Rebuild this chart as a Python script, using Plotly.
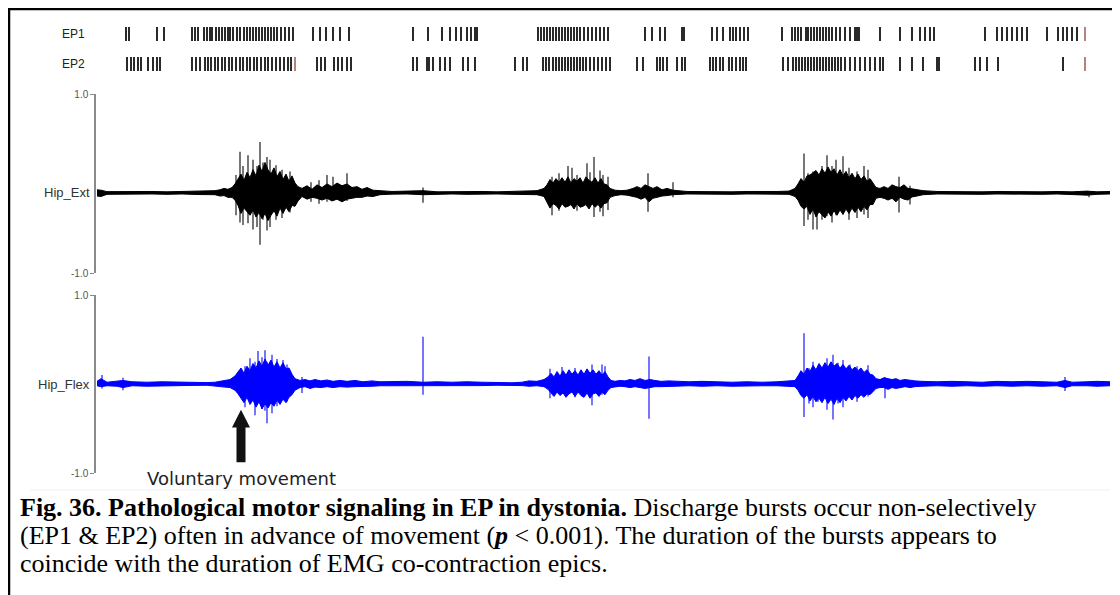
import plotly.graph_objects as go

# page is offset by the 8px body margin; figure sized to fit the window exactly
OFF = 8
W, H = 1120 - OFF, 595 - OFF

# ---------------- spike raster (time in a.u.) ----------------
EP1_SPIKES = [29, 32, 60, 67, 95, 98, 101, 107, 110, 113, 115, 119, 122, 125, 128, 131, 133, 136, 140, 143,
              147, 150, 153, 156, 159, 162, 165, 168, 171, 174, 177, 180, 184, 188, 192, 196, 216, 223, 229,
              236, 243, 252, 316, 331, 345, 353, 359, 364, 370, 374, 378, 380, 441, 444, 447, 450, 453, 456,
              459, 462, 465, 468, 471, 474, 477, 480, 483, 487, 491, 495, 499, 503, 507, 511, 548, 555, 563,
              568, 585, 587, 615, 620, 626, 633, 636, 639, 643, 647, 651, 685, 695, 698, 701, 704, 709, 711,
              714, 717, 720, 723, 726, 729, 732, 735, 739, 743, 748, 753, 758, 760, 762, 783, 803, 815, 823,
              828, 833, 837, 888, 900, 905, 910, 915, 920, 925, 930, 950, 961, 966, 970, 975, 980]
EP1_MARKED = [988]
EP2_SPIKES = [30, 34, 37, 41, 44, 51, 56, 60, 63, 95, 99, 103, 108, 111, 114, 118, 121, 125, 128, 132, 135,
              139, 143, 146, 150, 153, 157, 160, 164, 168, 171, 175, 179, 183, 187, 191, 194, 220, 224, 228,
              237, 241, 245, 250, 254, 316, 320, 330, 332, 336, 343, 348, 353, 366, 371, 378, 418, 426, 430,
              446, 449, 452, 456, 459, 462, 465, 468, 471, 474, 477, 480, 483, 486, 489, 493, 497, 501, 505,
              509, 513, 540, 546, 560, 563, 566, 570, 580, 585, 588, 613, 616, 619, 623, 626, 632, 635, 639,
              643, 646, 649, 686, 691, 696, 699, 702, 705, 708, 711, 714, 717, 720, 723, 726, 729, 732, 735,
              738, 741, 744, 748, 753, 758, 763, 768, 773, 778, 783, 786, 803, 815, 826, 840, 842, 878, 883,
              890, 901, 966]
EP2_MARKED = [198, 988]
UNITS = ["EP1", "EP2"]

# ---------------- EMG envelopes (time, upper, lower deviation from baseline) ----------------
EXT_BASE = -0.105
EXT_T = [0, 4, 10, 25, 40, 55, 70, 85, 100, 110, 118, 123, 127, 131, 135, 138,
         141, 144, 147, 150, 153, 156, 159, 162, 165, 168, 171, 174, 177, 180, 183, 186, 189, 192, 195, 198, 201,
         205, 210, 215, 220, 225, 230, 235, 240, 245, 250, 255, 260, 265, 270, 276, 283,
         295, 310, 326, 340, 355, 370, 385, 400, 415, 428, 440, 447,
         450, 453, 456, 459, 462, 465, 468, 471, 474, 477, 480, 483, 486, 489, 492, 495, 498, 501, 504, 507, 510, 513,
         518, 524, 530, 536, 540, 544, 548, 552, 556, 560, 565, 570, 576,
         590, 605, 620, 635, 650, 665, 680, 692, 698,
         701, 704, 707, 710, 713, 716, 719, 722, 725, 728, 731, 734, 737, 740, 743, 746, 749, 752, 755, 758, 761,
         764, 767, 770, 773, 776, 779,
         783, 787, 791, 795, 799, 803, 807, 811, 815, 820, 826,
         840, 855, 870, 885, 900, 915, 930, 945, 960, 975, 990, 1000, 1013]
EXT_UP = [.035, .03, .014, .016, .012, .016, .012, .016, .012, .02, .025, .035, .05, .04, .06, .1,
          .16, .21, .14, .23, .17, .26, .19, .31, .24, .34, .26, .21, .28, .18, .24, .15, .21, .13, .19, .11, .07,
          .05, .08, .04, .09, .06, .1, .07, .11, .08, .1, .06, .07, .04, .06, .03, .025,
          .016, .02, .025, .012, .016, .012, .016, .012, .016, .02, .025, .05,
          .09, .15, .11, .16, .12, .17, .12, .18, .11, .16, .13, .17, .11, .18, .14, .12, .17, .11, .16, .1, .09, .05,
          .03, .025, .03, .05, .07, .05, .09, .07, .05, .07, .035, .05, .03,
          .016, .012, .016, .012, .016, .012, .016, .02, .05,
          .1, .16, .12, .19, .2, .23, .25, .2, .27, .22, .29, .23, .27, .2, .26, .19, .24, .17, .22, .16, .21,
          .15, .19, .13, .16, .11, .06,
          .05, .07, .05, .09, .07, .06, .09, .05, .045, .035, .025,
          .016, .012, .016, .012, .016, .012, .016, .012, .016, .012, .02, .012, .016]
EXT_DN = [.035, .04, .016, .012, .016, .012, .016, .012, .018, .016, .02, .035, .03, .05, .05, .08,
          .14, .23, .17, .21, .25, .19, .27, .22, .29, .23, .31, .25, .2, .26, .17, .23, .16, .21, .14, .15, .09,
          .04, .07, .05, .06, .08, .06, .09, .07, .1, .07, .06, .05, .05, .035, .04, .02,
          .014, .012, .02, .016, .012, .016, .012, .012, .016, .016, .02, .04,
          .1, .17, .12, .14, .18, .12, .16, .15, .13, .18, .12, .16, .15, .13, .18, .12, .16, .13, .17, .12, .11, .05,
          .03, .02, .025, .04, .05, .07, .05, .1, .06, .05, .035, .03, .02,
          .012, .016, .012, .016, .012, .016, .012, .016, .04,
          .08, .15, .18, .15, .24, .18, .27, .21, .25, .28, .21, .26, .2, .25, .19, .24, .18, .23, .17, .22, .16,
          .21, .15, .19, .13, .13, .06,
          .05, .06, .08, .06, .1, .05, .07, .08, .045, .035, .02,
          .012, .016, .012, .016, .012, .016, .012, .016, .012, .016, .025, .016, .012]
EXT_SPK_T = [139, 143, 146, 151, 156, 160, 163, 166, 170, 173, 179, 185, 193, 214, 222, 230, 236, 250, 326,
             455, 462, 471, 475, 480, 490, 493, 497, 503, 506, 511,
             551, 576, 707, 711, 716, 720, 725, 730, 735, 739, 746, 752, 760, 767, 771, 802, 813, 992]
EXT_SPK_HI = [.2, .46, .3, .42, .37, .3, .57, .34, .4, .37, .31, .26, .24, .12, .14, .2, .18, .22, .06,
              .18, .22, .3, .28, .2, .33, .23, .4, .25, .2, .18,
              .22, .12, .44, .22, .24, .22, .3, .42, .3, .37, .41, .28, .24, .3, .26, .18, .08, .01]
EXT_SPK_LO = [.25, .33, .36, .34, .41, .38, .58, .3, .42, .38, .3, .28, .22, .1, .12, .1, .08, .09, .11,
              .25, .2, .15, .14, .2, .15, .16, .27, .21, .26, .19,
              .21, .05, .37, .3, .41, .41, .3, .26, .33, .25, .24, .3, .28, .24, .28, .22, .13, .05]

FLEX_BASE = 0.0
FLEX_T = [0, 4, 10, 20, 26, 35, 50, 65, 80, 95, 110, 118, 123, 128, 133, 138,
          141, 144, 147, 150, 153, 156, 159, 162, 165, 168, 171, 174, 177, 180, 183, 186, 189, 192, 195, 198,
          203, 208, 213, 218, 224, 230, 236, 243, 250, 258, 266, 275, 283,
          295, 310, 326, 340, 355, 370, 385, 400, 415, 425, 432, 440, 447,
          451, 454, 457, 460, 463, 466, 469, 472, 475, 478, 481, 484, 487, 490, 493, 496, 499, 502, 505, 508, 511, 514,
          518, 523, 528, 533, 538, 543, 548, 553, 558, 564, 572, 580,
          592, 605, 620, 635, 650, 665, 680, 693, 698,
          701, 704, 707, 710, 713, 716, 719, 722, 725, 728, 731, 734, 737, 740, 743, 746, 749, 752, 755, 758, 761,
          764, 767, 770, 773, 776, 779,
          783, 787, 791, 795, 799, 803, 808, 813, 818, 825,
          840, 855, 870, 885, 900, 915, 930, 945, 960, 968, 975, 990, 1000, 1013]
FLEX_UP = [.03, .06, .02, .03, .04, .025, .02, .025, .02, .018, .016, .02, .03, .045, .05, .09,
           .13, .18, .12, .2, .15, .23, .18, .26, .2, .28, .21, .27, .19, .25, .18, .24, .17, .18, .11, .06,
           .04, .05, .035, .05, .035, .045, .03, .04, .03, .04, .025, .035, .025,
           .025, .03, .02, .025, .02, .025, .02, .016, .014, .02, .035, .03, .05,
           .08, .12, .08, .14, .09, .15, .1, .16, .11, .15, .1, .16, .11, .17, .12, .16, .11, .15, .1, .14, .08, .04,
           .03, .04, .035, .05, .04, .06, .04, .05, .04, .03, .035, .03,
           .025, .03, .025, .02, .025, .02, .025, .03, .04,
           .09, .15, .11, .18, .14, .21, .16, .23, .18, .24, .19, .25, .2, .23, .18, .22, .17, .21, .16, .19, .15,
           .18, .13, .16, .11, .1, .06,
           .05, .07, .06, .05, .06, .04, .05, .04, .035, .03,
           .025, .03, .025, .02, .03, .025, .03, .025, .02, .04, .02, .025, .03, .025]
FLEX_DN = [.02, .03, .02, .025, .04, .02, .025, .02, .018, .016, .014, .02, .025, .035, .04, .07,
           .11, .16, .21, .15, .23, .18, .26, .2, .28, .22, .27, .21, .25, .18, .23, .17, .21, .15, .12, .07,
           .04, .03, .05, .035, .04, .03, .04, .03, .035, .03, .03, .025, .02,
           .02, .025, .02, .02, .025, .02, .018, .014, .014, .018, .025, .02, .03,
           .06, .1, .14, .09, .13, .1, .15, .11, .09, .14, .09, .13, .15, .1, .16, .11, .1, .14, .09, .12, .07, .04,
           .03, .025, .03, .04, .03, .04, .05, .04, .03, .03, .025, .02,
           .02, .025, .02, .025, .02, .02, .02, .025, .03,
           .07, .13, .16, .12, .19, .14, .2, .16, .21, .15, .22, .17, .23, .16, .21, .15, .19, .14, .18, .13, .16,
           .12, .15, .11, .12, .08, .05,
           .04, .04, .06, .04, .05, .04, .03, .04, .03, .025,
           .02, .025, .02, .025, .02, .025, .02, .025, .02, .04, .02, .02, .025, .02]
FLEX_SPK_T = [5, 26, 148, 153, 158, 161, 165, 168, 170, 175, 180, 186, 190, 205, 326, 453, 465, 478, 495,
              505, 508, 552, 707, 712, 716, 721, 730, 736, 741, 746, 753, 760, 771, 788, 968]
FLEX_SPK_HI = [.1, .07, .2, .29, .25, .37, .3, .38, .25, .33, .28, .27, .22, .08, .53, .17, .19, .18, .22,
               .22, .2, .31, .57, .18, .25, .2, .29, .33, .24, .27, .22, .2, .21, .08, .08]
FLEX_SPK_LO = [.05, .07, .26, .18, .35, .2, .28, .3, .44, .33, .25, .15, .2, .1, .12, .16, .1, .15, .24,
               .12, .1, .39, .37, .22, .26, .2, .29, .4, .22, .26, .15, .2, .14, .16, .08]
CHANNELS = ["Hip_Ext", "Hip_Flex"]
YTICKS = [-1.0, 1.0]

CAPTION = [
    "<b>Fig. 36. Pathological motor signaling in EP in dystonia.</b> Discharge bursts occur non-selectively",
    "(EP1 &amp; EP2) often in advance of movement (<b><i>p</i></b> &lt; 0.001). The duration of the bursts appears to",
    "coincide with the duration of EMG co-contraction epics.",
]
ANNOT_TEXT = "Voluntary movement"
ARROW_T = 144


def px(x):  # window pixel -> paper x
    return (x - OFF) / W


def py(y):  # window pixel -> paper y
    return 1 - (y - OFF) / H


def raster_xy(times, row):
    xs, ys = [], []
    for t in times:
        xs += [t, t, None]
        ys += [row - 0.23, row + 0.23, None]
    return xs, ys


def spike_xy(ts, hi, lo, base):
    xs, ys = [], []
    for t, a, b in zip(ts, hi, lo):
        xs += [t, t, None]
        ys += [base + a, base - b, None]
    return xs, ys


fig = go.Figure()

# raster
for row, spikes, marked in [(1, EP1_SPIKES, EP1_MARKED), (0, EP2_SPIKES, EP2_MARKED)]:
    xs, ys = raster_xy(spikes, row)
    fig.add_trace(go.Scatter(x=xs, y=ys, mode="lines", line=dict(color="#2a2a2a", width=2),
                             xaxis="x", yaxis="y3", hoverinfo="skip", showlegend=False))
    xs, ys = raster_xy(marked, row)
    fig.add_trace(go.Scatter(x=xs, y=ys, mode="lines", line=dict(color="#b98080", width=2),
                             xaxis="x", yaxis="y3", hoverinfo="skip", showlegend=False))

# EMG traces: outlier spikes first, then the dense filled envelope on top
for yname, base, T, UP, DN, ST, SH, SL, col, scol in [
    ("y", EXT_BASE, EXT_T, EXT_UP, EXT_DN, EXT_SPK_T, EXT_SPK_HI, EXT_SPK_LO, "#000000", "#2e2e2e"),
    ("y2", FLEX_BASE, FLEX_T, FLEX_UP, FLEX_DN, FLEX_SPK_T, FLEX_SPK_HI, FLEX_SPK_LO, "#0000ff", "#2a2aff"),
]:
    xs, ys = spike_xy(ST, SH, SL, base)
    fig.add_trace(go.Scatter(x=xs, y=ys, mode="lines", line=dict(color=scol, width=1.3),
                             xaxis="x", yaxis=yname, hoverinfo="skip", showlegend=False))
    fig.add_trace(go.Scatter(x=T, y=[base + u for u in UP], mode="lines", line=dict(color=col, width=1),
                             xaxis="x", yaxis=yname, hoverinfo="skip", showlegend=False))
    fig.add_trace(go.Scatter(x=T, y=[base - d for d in DN], mode="lines", line=dict(color=col, width=1),
                             fill="tonexty", fillcolor=col,
                             xaxis="x", yaxis=yname, hoverinfo="skip", showlegend=False))

emg_axis = dict(range=[-1, 1], anchor="free", position=px(95), showline=True, linecolor="#8a8a8a",
                linewidth=1.5, ticks="outside", ticklen=4, tickwidth=1.2, tickcolor="#8a8a8a",
                tickvals=YTICKS, ticktext=[f"{v:.1f}" for v in YTICKS], showgrid=False, zeroline=False,
                tickfont=dict(family="Liberation Sans, Arial", size=10, color="#555555"))

fig.update_layout(
    width=W, height=H, margin=dict(l=0, r=0, t=0, b=0, autoexpand=False),
    paper_bgcolor="white", plot_bgcolor="white",
    xaxis=dict(range=[-(97 - OFF), W - (97 - OFF)], domain=[0, 1], visible=False, anchor="y"),
    yaxis=dict(domain=[py(273), py(94)], **emg_axis),
    yaxis2=dict(domain=[py(473), py(295)], **emg_axis),
    yaxis3=dict(domain=[py(79), py(19)], range=[-0.5, 1.5], anchor="free", position=0, visible=False),
)

annots = []
for row, name in zip([1, 0], UNITS):
    annots.append(dict(x=px(87), xref="paper", y=row, yref="y3", text=name, showarrow=False,
                       xanchor="right", yanchor="middle",
                       font=dict(family="Liberation Sans, Arial", size=12, color="#222222")))
for yname, base, name in [("y", EXT_BASE, CHANNELS[0]), ("y2", FLEX_BASE, CHANNELS[1])]:
    annots.append(dict(x=px(92), xref="paper", y=base, yref=yname, text=name, showarrow=False,
                       xanchor="right", yanchor="middle",
                       font=dict(family="Liberation Sans, Arial", size=13, color="#333333")))
annots.append(dict(x=ARROW_T, xref="x", y=py(478), yref="paper", text=ANNOT_TEXT, showarrow=False,
                   xanchor="center", yanchor="middle",
                   font=dict(family="DejaVu Sans", size=18, color="#222222")))
for i, line in enumerate(CAPTION):
    annots.append(dict(x=px(18), xref="paper", y=py(507 + 28 * i), yref="paper", text=line,
                       showarrow=False, xanchor="left", yanchor="middle", align="left",
                       font=dict(family="Liberation Serif, Times New Roman", size=26, color="#000000")))
fig.update_layout(annotations=annots)

arr = (f"M {ARROW_T - 4.5},-0.88 L {ARROW_T + 4.5},-0.88 L {ARROW_T + 4.5},-0.49 L {ARROW_T + 9},-0.49 "
       f"L {ARROW_T},-0.29 L {ARROW_T - 9},-0.49 L {ARROW_T - 4.5},-0.49 Z")
shapes = [
    dict(type="path", path=arr, xref="x", yref="y2", fillcolor="#111111", line=dict(width=0)),
    dict(type="line", xref="paper", yref="paper", x0=0, x1=1, y0=py(9), y1=py(9),
         line=dict(color="black", width=2.5)),
    dict(type="line", xref="paper", yref="paper", x0=px(9), x1=px(9), y0=py(8), y1=0,
         line=dict(color="black", width=2.5)),
    dict(type="line", xref="paper", yref="paper", x0=px(30), x1=px(1110), y0=py(490), y1=py(490),
         line=dict(color="#f0f0f0", width=1)),
]
fig.update_layout(shapes=shapes)

fig.write_html("out.html")
